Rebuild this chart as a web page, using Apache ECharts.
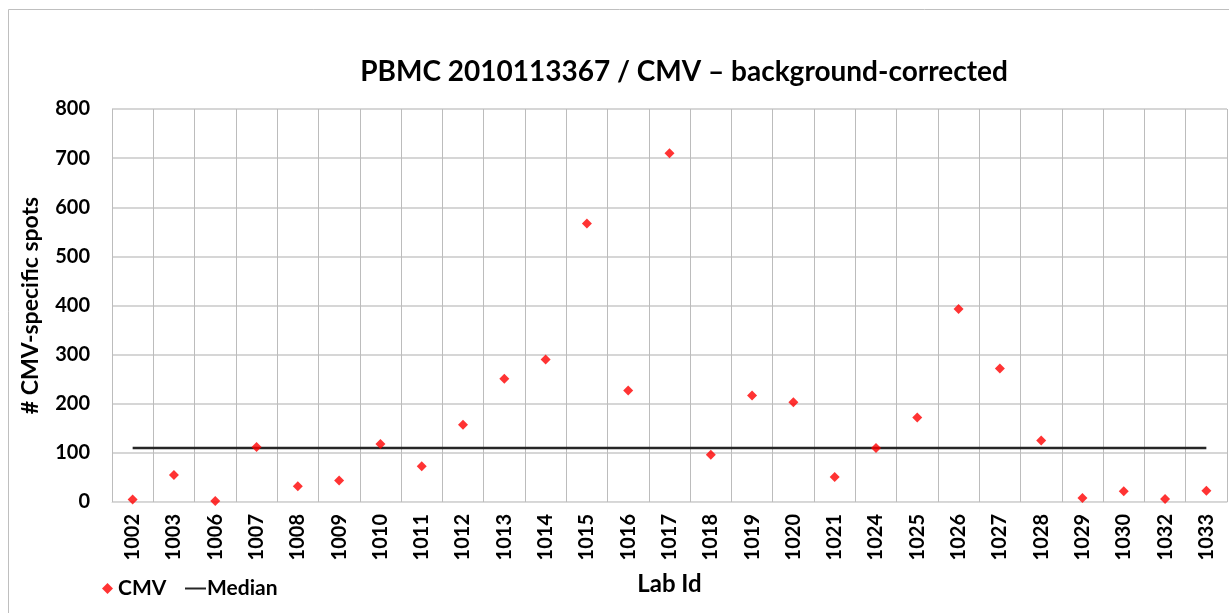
<!DOCTYPE html>
<html>
<head>
<meta charset="utf-8">
<script src="https://cdn.jsdelivr.net/npm/echarts@6/dist/echarts.min.js"></script>
<style>
  html, body { margin: 0; padding: 0; background: #fff; }
  #chart { width: 1229px; height: 613px; }
</style>
</head>
<body>
<div id="chart"></div>
<script>
// lab ids on the x axis
const labIds = ['1002', '1003', '1006', '1007', '1008', '1009', '1010', '1011', '1012',
  '1013', '1014', '1015', '1016', '1017', '1018', '1019', '1020', '1021', '1024',
  '1025', '1026', '1027', '1028', '1029', '1030', '1032', '1033']
// CMV-specific spots per lab
const cmvValues = [5, 55, 2, 112, 32, 44, 118, 73, 157, 251, 290, 567, 227, 710, 96,
  217, 203, 51, 110, 172, 393, 272, 125, 8, 22, 6, 23]
const medianValue = 110
const yTicks = [0, 100, 200, 300, 400, 500, 600, 700, 800]

const fontFam = 'Lato, "Open Sans", sans-serif'
const chart = echarts.init(document.getElementById('chart'))

const option = {
  backgroundColor: '#fff',
  animation: false,
  textStyle: { fontFamily: fontFam },
  title: {
    text: 'PBMC 2010113367 / CMV \u2013 background-corrected',
    left: 679,
    textAlign: 'center',
    top: 53,
    textStyle: { fontFamily: fontFam, fontSize: 28, fontWeight: 'bold', color: '#000' }
  },
  graphic: [{
    type: 'rect',
    shape: { x: 8.5, y: 9.5, width: 1300, height: 700 },
    style: { fill: null, stroke: '#bfbfbf', lineWidth: 1 },
    silent: true
  }],
  legend: [
    {
      data: [{ name: 'CMV', icon: 'diamond' }],
      left: 97, top: 573,
      itemWidth: 11, itemHeight: 11, itemGap: 4,
      textStyle: { fontFamily: fontFam, fontSize: 21, fontWeight: 'bold', color: '#000' }
    },
    {
      data: [{ name: 'Median', icon: 'rect' }],
      left: 180, top: 573,
      itemWidth: 21, itemHeight: 2, itemGap: 2,
      textStyle: { fontFamily: fontFam, fontSize: 21, fontWeight: 'bold', color: '#000', padding: [0, 0, 0, -4] }
    }
  ],
  grid: { left: 112, right: 2, top: 109, bottom: 111, containLabel: false },
  xAxis: {
    type: 'category',
    data: labIds,
    name: 'Lab Id',
    nameLocation: 'middle',
    nameGap: 70,
    nameTextStyle: { fontFamily: fontFam, fontSize: 24, fontWeight: 'bold', color: '#000' },
    boundaryGap: true,
    axisLine: { show: true, lineStyle: { color: '#d9d9d9', width: 1 } },
    axisTick: { show: false },
    axisLabel: { rotate: 90, margin: 12, interval: 0, color: '#000',
      fontFamily: fontFam, fontSize: 20, fontWeight: 'bold' },
    splitLine: { show: true, interval: 0, lineStyle: { color: '#bcbcbc', width: 1 } }
  },
  yAxis: {
    type: 'value',
    min: yTicks[0],
    max: yTicks[yTicks.length - 1],
    interval: 100,
    name: '# CMV-specific spots',
    nameLocation: 'middle',
    nameGap: 70,
    nameTextStyle: { fontFamily: fontFam, fontSize: 23, fontWeight: 'bold', color: '#000' },
    axisLine: { show: false },
    axisTick: { show: false },
    axisLabel: { margin: 22, color: '#000', fontFamily: fontFam, fontSize: 20, fontWeight: 'bold' },
    splitLine: { show: true, lineStyle: { color: '#c8c8c8', width: 1.5 } }
  },
  series: [
    {
      name: 'Median',
      type: 'line',
      data: labIds.map(() => medianValue),
      showSymbol: false,
      symbol: 'none',
      lineStyle: { color: '#262626', width: 2.5 },
      itemStyle: { color: '#262626' },
      z: 2
    },
    {
      name: 'CMV',
      type: 'scatter',
      data: cmvValues,
      symbol: 'diamond',
      symbolSize: 10,
      itemStyle: { color: '#ff0000' },
      z: 3
    }
  ]
}

chart.setOption(option)
</script>
</body>
</html>
